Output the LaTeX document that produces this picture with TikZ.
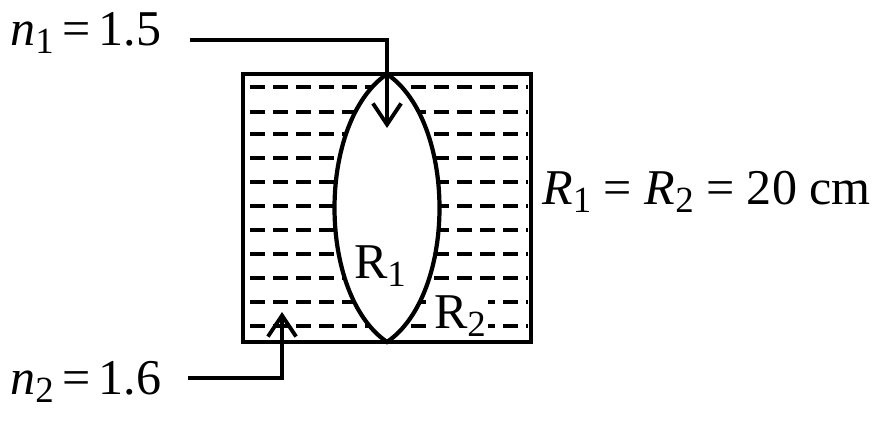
\documentclass[tikz,border=0pt]{standalone}
\usepackage{fontspec}
\setmainfont{Liberation Serif}
\usetikzlibrary{arrows.meta}
\newcommand{\sbs}[1]{\raisebox{-0.35ex}{\fontsize{21}{23}\selectfont #1}}
\begin{document}
\begin{tikzpicture}[x=0.02cm,y=-0.02cm,
  lbl/.style={font=\fontsize{28.5}{31}\selectfont, inner sep=0pt},
  arr/.style={line width=2.2pt,-{Straight Barb[length=12pt,width=16pt,line width=2.2pt]}}]
\useasboundingbox (0,0) rectangle (885,429);
\foreach \y in {87,112,134,158,182,206,230,254,278,302,326}
  \draw[line width=2.6pt, dash pattern=on 0.3cm off 0.16cm] (250,\y) -- (528,\y);
\draw[line width=2.4pt, fill=white] (387,74) .. controls (317,122) and (317,294) .. (387,342)
  .. controls (457,294) and (457,122) .. (387,74) -- cycle;
\draw[line width=2.6pt] (243,74) rectangle (531,342);
\node[lbl, anchor=west] (n1) at (10,33) {\textit{n}\sbs{1}\,=\,1.5};
\node[lbl, anchor=west] (n2) at (10,382) {\textit{n}\sbs{2}\,=\,1.6};
\coordinate (a1) at (387,128);
\coordinate (a2) at (282,312);
\draw[arr] (190,40) -| (a1);
\draw[arr] (188,378) -| (a2);
\node[lbl, anchor=west] (R) at (542,192) {\textit{R}\sbs{1} = \textit{R}\sbs{2} = 20 cm};
\node[lbl] (r1) at (380,266) {R\sbs{1}};
\node[lbl, fill=white, inner sep=1pt] (r2) at (460,316) {R\sbs{2}};
\end{tikzpicture}
\end{document}
